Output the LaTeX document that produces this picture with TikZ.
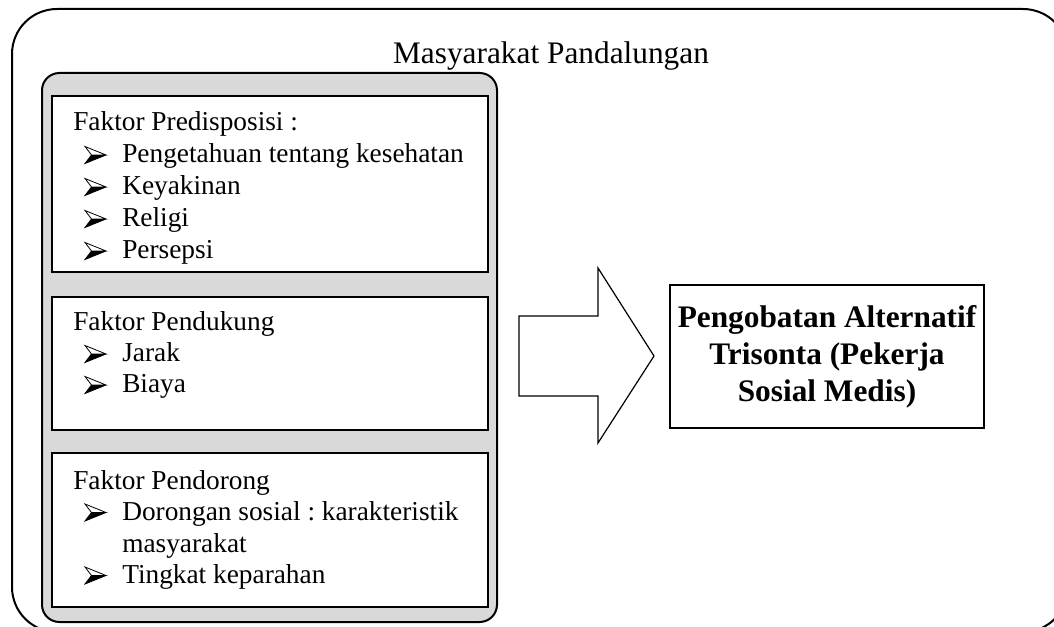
\documentclass[tikz,border=0pt]{standalone}
\usepackage{fontspec}
\setmainfont{Liberation Serif}
\frenchspacing
\definecolor{panelgrey}{HTML}{D9D9D9}
\tikzset{
  body/.style={anchor=base west,inner sep=0pt,font=\fontsize{20.5}{24}\selectfont},
  titletext/.style={anchor=base,inner sep=0pt,font=\fontsize{23.5}{28}\selectfont},
  factorbox/.style={draw,line width=1.5pt,fill=white},
  resultbox/.style={draw,line width=1.3pt,fill=white,minimum width=235.5pt,minimum height=107pt,
     align=center,inner sep=0pt,font=\fontsize{23.5}{27.75}\selectfont\bfseries},
  bulpic/.pic={
    \fill[black] (6.5,0) -- (21,0) -- (0,8.5) -- cycle;
    \draw[line width=0.6pt,fill=white,line join=miter] (0,-8.5) -- (21,0) -- (6.5,0) -- cycle;
    \draw[line width=0.6pt,line join=miter] (6.5,0) -- (0,8.5) -- (21,0);
  }
}
\begin{document}
\begin{tikzpicture}[x=0.75pt,y=-0.75pt]
\useasboundingbox (0,0) rectangle (1054,627);
\clip (0,0) rectangle (1054,627);
% outer frame
\draw[line width=1.5pt,rounded corners=33.75pt] (12,9) rectangle (1068,632);
\node[titletext] (title) at (551,64) {Masyarakat Pandalungan};
% grey panel
\draw[line width=1.5pt,fill=panelgrey,rounded corners=13pt] (42,73) rectangle (497,622);
% factor boxes
\draw[factorbox] (52,96) rectangle (488,272);
\draw[factorbox] (52,297) rectangle (488,430);
\draw[factorbox] (52,453) rectangle (488,607);
% box 1
\node[body] (f1) at (73,131) {Faktor Predisposisi :};
\pic at (85,155) {bulpic};
\node[body] (f1a) at (122,163) {Pengetahuan tentang kesehatan};
\pic at (85,187) {bulpic};
\node[body] (f1b) at (122,195) {Keyakinan};
\pic at (85,219) {bulpic};
\node[body] (f1c) at (122,227) {Religi};
\pic at (85,251) {bulpic};
\node[body] (f1d) at (122,259) {Persepsi};
% box 2
\node[body] (f2) at (73,331) {Faktor Pendukung};
\pic at (85,354) {bulpic};
\node[body] (f2a) at (122,362) {Jarak};
\pic at (85,385) {bulpic};
\node[body] (f2b) at (122,393) {Biaya};
% box 3
\node[body] (f3) at (73,489) {Faktor Pendorong};
\pic at (85,512.5) {bulpic};
\node[body] (f3a) at (122,520.5) {Dorongan sosial : karakteristik};
\node[body] (f3b) at (122,552) {masyarakat};
\pic at (85,575.5) {bulpic};
\node[body] (f3c) at (122,583.5) {Tingkat keparahan};
% arrow
\draw[line width=0.9pt,fill=white,line join=miter] (519,316) -- (598,316) -- (598,268) -- (654,356) -- (598,443) -- (598,396) -- (519,396) -- cycle;
% result
\node[resultbox] (res) at (827,356.5) {Pengobatan Alternatif\\Trisonta (Pekerja\\Sosial Medis)};
\end{tikzpicture}
\end{document}
